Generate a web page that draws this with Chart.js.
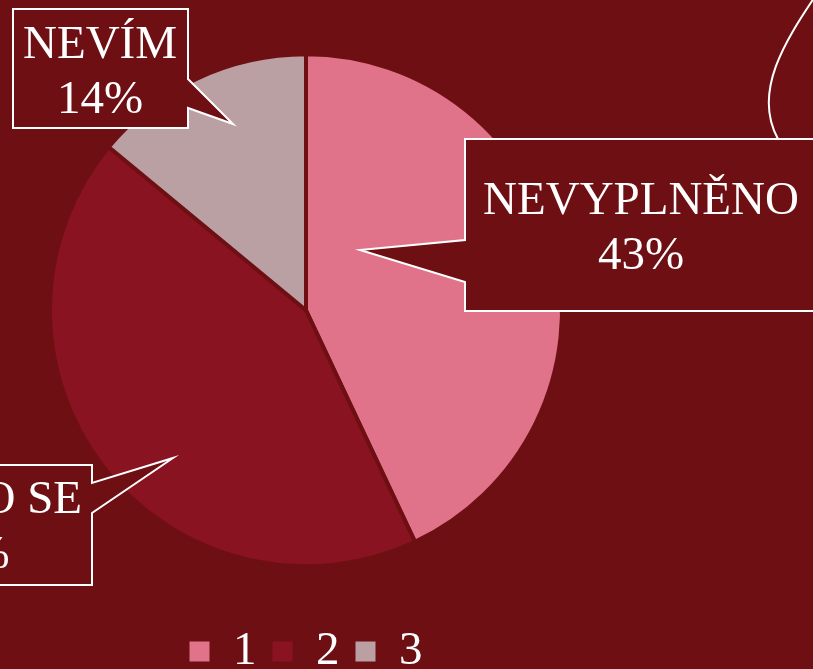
<!DOCTYPE html>
<html>
<head>
<meta charset="utf-8">
<script src="https://cdn.jsdelivr.net/npm/chart.js@4.4.1/dist/chart.umd.min.js"></script>
<style>
  html, body { margin: 0; padding: 0; background: #6E1013; overflow: hidden; }
  canvas { display: block; }
</style>
</head>
<body>
<canvas id="pieChart" width="813" height="685"></canvas>
<script>
// chart data
const legendLabels = ['1', '2', '3'];
const categoryNames = ['NEVYPLNĚNO', 'UDÁLO SE', 'NEVÍM'];
const percentValues = [43, 43, 14];
const sliceColors = ['#E07389', '#8A1321', '#BBA0A3'];

const bgColor = '#6E1013';
const serif = '"Liberation Serif", "Times New Roman", serif';

// callout boxes: rect + pointer tip (pixel layout)
const callouts = [
    { idx: 0, x: 465, y: 139, w: 360, h: 172, side: 'left', p1: 240, p2: 282, tip: [360, 250], tx: 641, ty: 214 },
    { idx: 1, x: -150, y: 465, w: 242, h: 120, side: 'right', p1: 483, p2: 513, tip: [173, 458], tx: -33.5, ty: 513 },
    { idx: 2, x: 13, y: 9, w: 175, h: 119, side: 'right', p1: 79, p2: 108, tip: [233, 124], tx: 100, ty: 58 }
];

const calloutPlugin = {
    id: 'callouts',
    afterDraw(chart) {
        const ctx = chart.ctx;
        ctx.save();

        // decorative curve top right
        ctx.strokeStyle = '#ffffff';
        ctx.lineWidth = 2;
        ctx.beginPath();
        ctx.moveTo(814, -2);
        ctx.bezierCurveTo(786, 40, 752, 92, 778, 139);
        ctx.stroke();

        callouts.forEach(c => {
            ctx.beginPath();
            ctx.moveTo(c.x, c.y);
            ctx.lineTo(c.x + c.w, c.y);
            if (c.side === 'right') {
                ctx.lineTo(c.x + c.w, c.p1);
                ctx.lineTo(c.tip[0], c.tip[1]);
                ctx.lineTo(c.x + c.w, c.p2);
                ctx.lineTo(c.x + c.w, c.y + c.h);
                ctx.lineTo(c.x, c.y + c.h);
            } else {
                ctx.lineTo(c.x + c.w, c.y + c.h);
                ctx.lineTo(c.x, c.y + c.h);
                ctx.lineTo(c.x, c.p2);
                ctx.lineTo(c.tip[0], c.tip[1]);
                ctx.lineTo(c.x, c.p1);
            }
            ctx.closePath();
            ctx.fillStyle = bgColor;
            ctx.fill();
            ctx.strokeStyle = '#ffffff';
            ctx.lineWidth = 2;
            ctx.stroke();

            ctx.fillStyle = '#ffffff';
            ctx.font = '47px ' + serif;
            ctx.textAlign = 'center';
            ctx.textBaseline = 'alphabetic';
            ctx.fillText(categoryNames[c.idx], c.tx, c.ty);
            ctx.fillText(percentValues[c.idx] + '%', c.tx, c.ty + 55);
        });
        ctx.restore();
    }
};

const defaultLabels = Chart.overrides.pie.plugins.legend.labels.generateLabels;

new Chart(document.getElementById('pieChart').getContext('2d'), {
    type: 'pie',
    data: {
        labels: legendLabels,
        datasets: [{
            data: percentValues,
            backgroundColor: sliceColors,
            borderColor: bgColor,
            borderWidth: 4
        }]
    },
    options: {
        responsive: false,
        animation: false,
        radius: 256,
        layout: { padding: { top: 8.5, right: 201, left: 0, bottom: 0 } },
        plugins: {
            tooltip: { enabled: false },
            legend: {
                position: 'bottom',
                labels: {
                    color: '#ffffff',
                    boxWidth: 20,
                    boxHeight: 20,
                    padding: 16,
                    font: { family: serif, size: 47 },
                    generateLabels(chart) {
                        return defaultLabels(chart).map(l => Object.assign(l, { lineWidth: 0 }));
                    }
                }
            }
        }
    },
    plugins: [calloutPlugin]
});
</script>
</body>
</html>
